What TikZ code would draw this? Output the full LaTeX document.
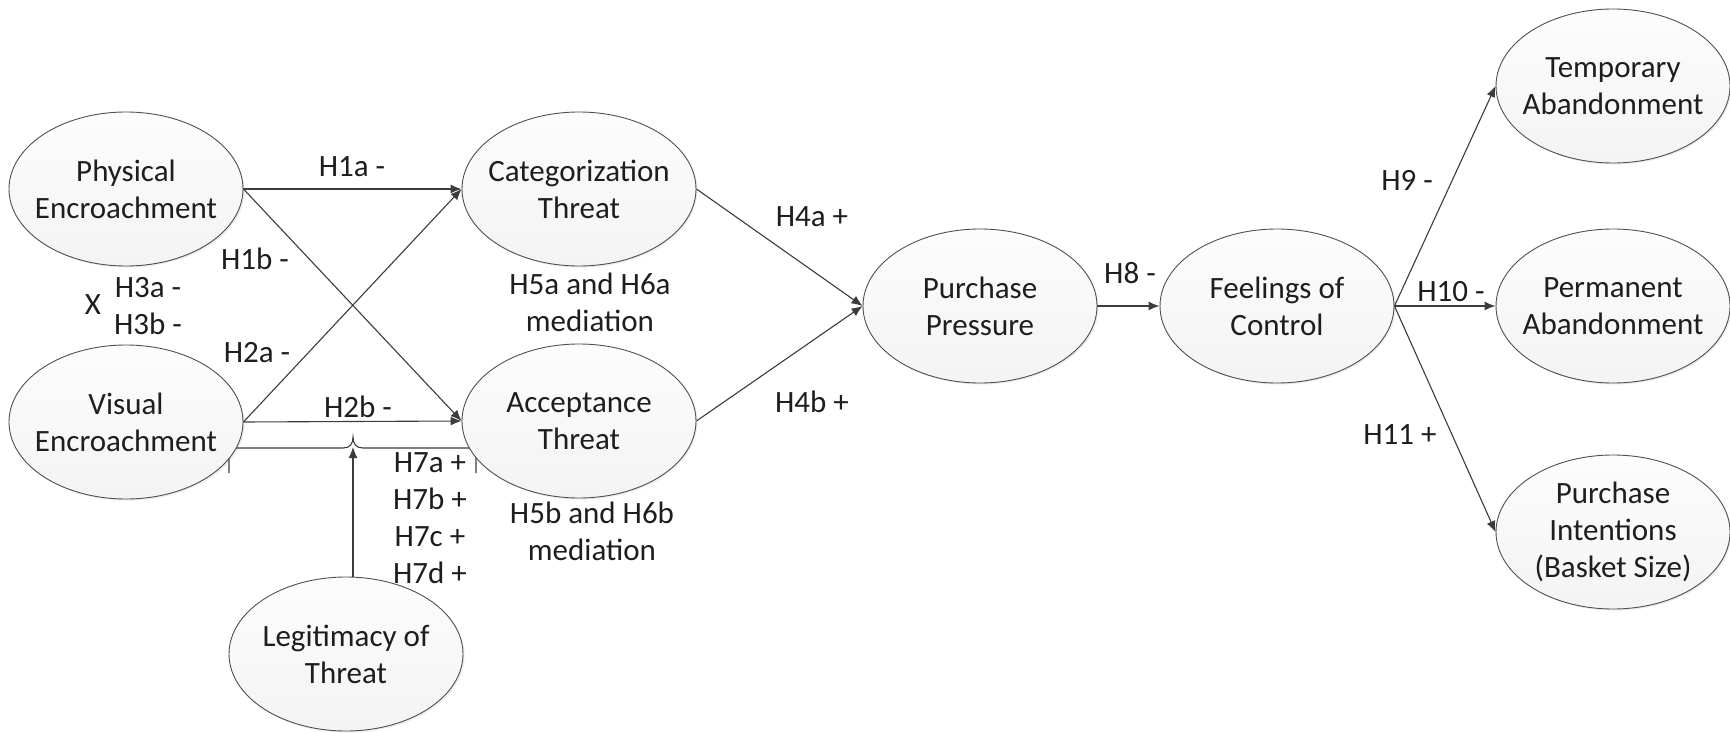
\documentclass[tikz,border=0pt]{standalone}
\usepackage{fontspec}
\setmainfont{Carlito}
\usetikzlibrary{shapes.geometric,arrows.meta,shadows}
\definecolor{edgegray}{HTML}{505050}
\definecolor{linegray}{HTML}{3C3C3C}
\definecolor{inkgray}{HTML}{1E1E1E}
\begin{document}
\begin{tikzpicture}[x=1pt,y=-1pt,
  font=\fontsize{31}{37}\selectfont, text=inkgray,
  construct/.style={ellipse, draw=edgegray, line width=0.9pt,
    minimum width=234pt, minimum height=154pt, inner sep=0pt,
    top color=gray!2, bottom color=gray!9,
    drop shadow={opacity=0.15, shadow xshift=1.5pt, shadow yshift=-1.5pt}},
  lbl/.style={align=center, inner sep=0pt, text=inkgray},
  hyp/.style={align=center, inner sep=0pt},
  arr/.style={draw=linegray, line width=1.1pt, -{Latex[length=11pt,width=9pt]}},
  bracket/.style={draw=linegray, line width=1.1pt}]

% canvas
\fill[white] (0,0) rectangle (1730,733);
\useasboundingbox (0,0) rectangle (1730,733);

% brace joining the two encroachment paths (drawn first, ellipses cover its ends)
\coordinate (bl) at (229,473);
\coordinate (br) at (476,473);
\coordinate (tip) at (353,437);
\coordinate (tipend) at (353,447);
\draw[bracket] (bl) -- (229,455) to[out=-90,in=180] (236,448) -- (343,448)
  .. controls (350,448) and (353,444) .. (tip)
  .. controls (353,444) and (356,448) .. (363,448) -- (469,448)
  to[out=0,in=-90] (476,455) -- (br);

% constructs
\node[construct, label={[lbl]center:{Physical\\Encroachment}}] (pe) at (126,189) {};
\node[construct, label={[lbl]center:{Visual\\Encroachment}}] (ve) at (126,422) {};
\node[construct, label={[lbl]center:{Categorization\\Threat}}] (ct) at (579,189) {};
\node[construct, label={[lbl]center:{Acceptance\\Threat}}] (at) at (579,421) {};
\node[construct, label={[lbl]center:{Legitimacy of\\Threat}}] (lt) at (346,654) {};
\node[construct, label={[lbl]center:{Purchase\\Pressure}}] (pp) at (980,306) {};
\node[construct, label={[lbl]center:{Feelings of\\Control}}] (fc) at (1277,306) {};
\node[construct, label={[lbl]center:{Temporary\\Abandonment}}] (ta) at (1613,86) {};
\node[construct, label={[lbl]center:{Permanent\\Abandonment}}] (pa) at (1613,306) {};
\node[construct, label={[lbl]center:{Purchase\\Intentions\\(Basket Size)}}] (pi) at (1613,532) {};

% paths
\draw[arr] (pe.east) -- (ct.west);
\draw[arr] (pe.east) -- (at.west);
\draw[arr] (ve.east) -- (ct.west);
\draw[arr] (ve.east) -- (at.west);
\draw[arr] (tipend |- lt.north) -- (tipend);
\draw[arr] (ct.east) -- (pp.west);
\draw[arr] (at.east) -- (pp.west);
\draw[arr] (pp.east) -- (fc.west);
\draw[arr] (fc.east) -- (ta.west);
\draw[arr] (fc.east) -- (pa.west);
\draw[arr] (fc.east) -- (pi.west);

% hypothesis labels
\node[hyp] (h1a) at (352,167) {H1a -};
\node[hyp] (h1b) at (255,259) {H1b -};
\node[hyp] (hx) at (93,305) {X};
\node[hyp] (h3) at (148,306) {H3a -\\H3b -};
\node[hyp] (h2a) at (257,353) {H2a -};
\node[hyp] (h2b) at (358,407) {H2b -};
\node[hyp] (h7) at (430,518) {H7a +\\H7b +\\H7c +\\H7d +};
\node[hyp] (h56a) at (590,302) {H5a and H6a\\mediation};
\node[hyp] (h56b) at (592,531) {H5b and H6b\\mediation};
\node[hyp] (h4a) at (812,217) {H4a +};
\node[hyp] (h4b) at (812,402) {H4b +};
\node[hyp] (h8) at (1130,273) {H8 -};
\node[hyp] (h9) at (1407,180) {H9 -};
\node[hyp] (h10) at (1451,292) {H10 -};
\node[hyp] (h11) at (1400,435) {H11 +};
\end{tikzpicture}
\end{document}
